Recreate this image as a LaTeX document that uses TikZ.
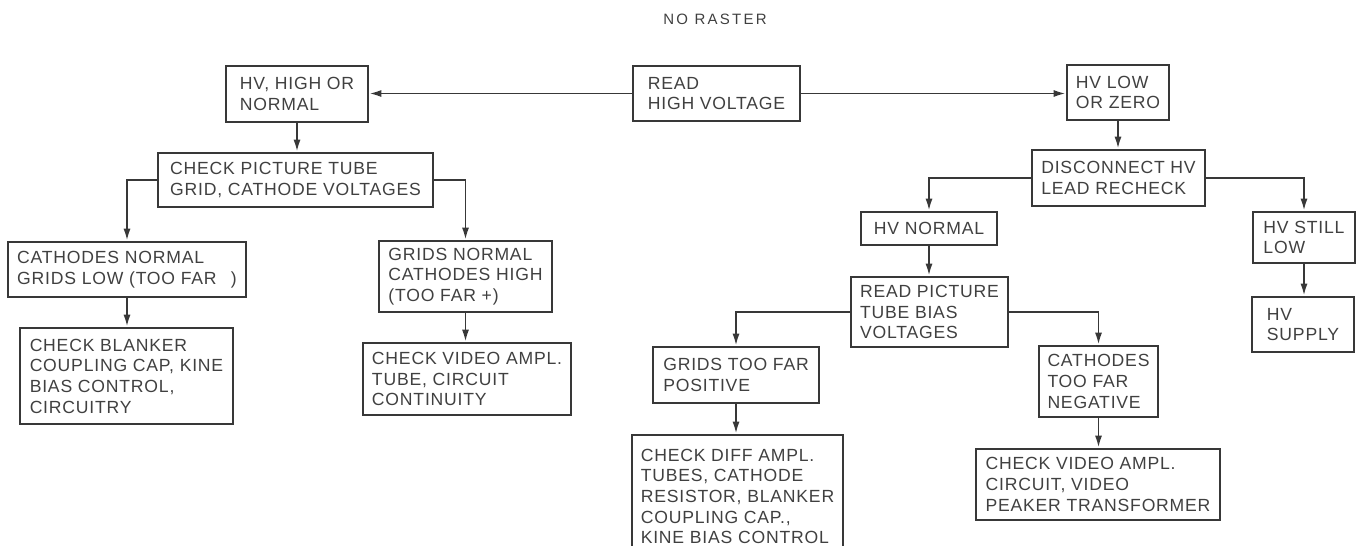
\documentclass[tikz,border=0pt]{standalone}
\usepackage{fontspec}
\setmainfont{Liberation Sans}[LetterSpace=4.5]
\usetikzlibrary{arrows.meta}
\definecolor{ink}{HTML}{383838}
\definecolor{inktext}{HTML}{404040}
\tikzset{
  nr box/.style={draw=ink,line width=2.6pt,text=inktext,align=left,inner xsep=4pt,inner ysep=2pt,font=\fontsize{17.6}{20.7}\selectfont},
  nr line/.style={draw=ink,line width=1.9pt},
  nr arrow/.style={nr line,-{Latex[length=12pt,width=7pt]}}
}
\begin{document}
\begin{tikzpicture}[x=1pt,y=-1pt]
  \useasboundingbox (0,0) rectangle (1365,546);
  \clip (0,0) rectangle (1365,546);
  \node[text=inktext,font=\fontsize{15}{17}\selectfont\addfontfeature{LetterSpace=15}] (title) at (715,19) {NO RASTER};
  \node[nr box,minimum width=167pt,minimum height=55pt] (readhv) at (716.5,93.5) {READ\\HIGH VOLTAGE};
  \node[nr box,minimum width=142pt,minimum height=56pt] (hvhigh) at (297,94) {HV, HIGH OR\\NORMAL};
  \node[nr box,minimum width=102pt,minimum height=55pt] (hvlow) at (1118,92.5) {HV LOW\\OR ZERO};
  \node[nr box,minimum width=275pt,minimum height=54pt] (checktube) at (295.5,180) {CHECK PICTURE TUBE\\GRID, CATHODE VOLTAGES};
  \node[nr box,minimum width=173pt,minimum height=56pt] (disconnect) at (1118.5,178) {DISCONNECT HV\\LEAD RECHECK};
  \node[nr box,minimum width=238pt,minimum height=55pt] (catnormal) at (127,269.5) {CATHODES NORMAL\\GRIDS LOW (TOO FAR \ \,)};
  \node[nr box,minimum width=173pt,minimum height=71pt] (gridsnormal) at (465.5,276.5) {GRIDS NORMAL\\CATHODES HIGH\\(TOO FAR +)};
  \node[nr box,minimum width=213pt,minimum height=96pt] (checkblanker) at (126.5,376) {CHECK BLANKER\\COUPLING CAP, KINE\\BIAS CONTROL,\\CIRCUITRY};
  \node[nr box,minimum width=208pt,minimum height=72pt] (checkvideoa) at (467,379) {CHECK VIDEO AMPL.\\TUBE, CIRCUIT\\CONTINUITY};
  \node[nr box,minimum width=136pt,minimum height=33pt] (hvnormal) at (929,228.5) {HV NORMAL};
  \node[nr box,minimum width=102pt,minimum height=51pt] (hvstill) at (1304,237.5) {HV STILL\\LOW};
  \node[nr box,minimum width=157pt,minimum height=70pt] (readbias) at (929.5,312) {READ PICTURE\\TUBE BIAS\\VOLTAGES};
  \node[nr box,minimum width=102pt,minimum height=55pt] (hvsupply) at (1303,324.5) {HV\\SUPPLY};
  \node[nr box,minimum width=166pt,minimum height=56pt] (gridspos) at (736,375) {GRIDS TOO FAR\\POSITIVE};
  \node[nr box,minimum width=211pt,minimum height=123pt] (checkdiff) at (737.5,496.5) {CHECK DIFF AMPL.\\TUBES, CATHODE\\RESISTOR, BLANKER\\COUPLING CAP.,\\KINE BIAS CONTROL};
  \node[nr box,minimum width=119pt,minimum height=71pt] (cathneg) at (1098.5,381.5) {CATHODES\\TOO FAR\\NEGATIVE};
  \node[nr box,minimum width=244pt,minimum height=71pt] (checkvideob) at (1098,484.5) {CHECK VIDEO AMPL.\\CIRCUIT, VIDEO\\PEAKER TRANSFORMER};
  \draw[nr arrow] (readhv.west) -- (readhv.west -| hvhigh.east);
  \draw[nr arrow] (readhv.east) -- (readhv.east -| hvlow.west);
  \draw[nr arrow] (hvhigh.south) -- (hvhigh.south |- checktube.north);
  \draw[nr arrow] (checktube.west) -| (catnormal.north);
  \draw[nr arrow] (checktube.east) -| (gridsnormal.north);
  \draw[nr arrow] (catnormal.south) -- (catnormal.south |- checkblanker.north);
  \draw[nr arrow] (gridsnormal.south) -- (gridsnormal.south |- checkvideoa.north);
  \draw[nr arrow] (hvlow.south) -- (hvlow.south |- disconnect.north);
  \draw[nr arrow] (disconnect.west) -| (hvnormal.north);
  \draw[nr arrow] (disconnect.east) -| (hvstill.north);
  \draw[nr arrow] (hvnormal.south) -- (hvnormal.south |- readbias.north);
  \draw[nr arrow] (hvstill.south) -- (hvstill.south |- hvsupply.north);
  \draw[nr arrow] (readbias.west) -| (gridspos.north);
  \draw[nr arrow] (readbias.east) -| (cathneg.north);
  \draw[nr arrow] (gridspos.south) -- (gridspos.south |- checkdiff.north);
  \draw[nr arrow] (cathneg.south) -- (cathneg.south |- checkvideob.north);
\end{tikzpicture}
\end{document}
